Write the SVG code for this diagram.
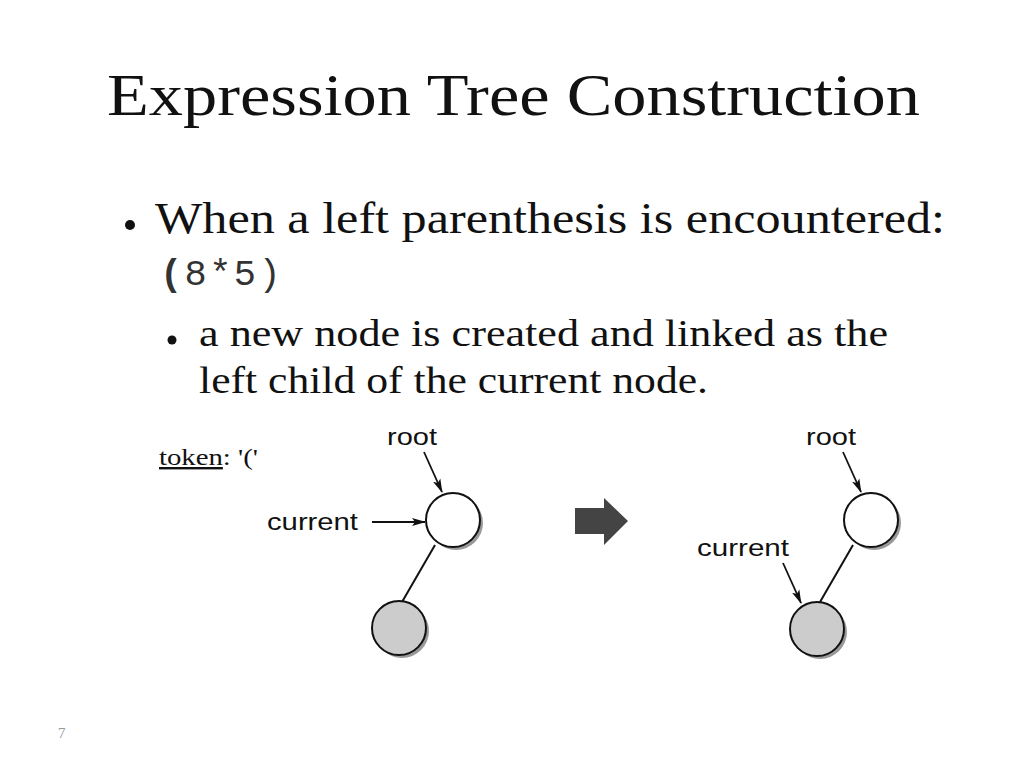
<svg xmlns="http://www.w3.org/2000/svg" width="1024" height="768" viewBox="0 0 1024 768">
<defs>
<style>
.title{font-family:"Liberation Serif",serif;font-size:60px;fill:#111}
.body{font-family:"Liberation Serif",serif;fill:#111}
.lbl{font-family:"Liberation Sans",Arial,sans-serif;font-size:24px;fill:#111}
.mono{font-family:"Liberation Mono",monospace;font-size:37px;fill:#333}
.shadow{fill:#999;stroke:none}
.nw{fill:#fff;stroke:#111;stroke-width:2}
.ng{fill:#ccc;stroke:#111;stroke-width:2}
.edge{stroke:#111;stroke-width:2;fill:none}
.ptr{stroke:#111;stroke-width:1.8;fill:none;marker-end:url(#ah)}
</style>
<marker id="ah" viewBox="0 0 14 10" refX="13" refY="5" markerWidth="14" markerHeight="10" orient="auto" markerUnits="userSpaceOnUse">
<path d="M0,1 L14,5 L0,9 L3,5 z" fill="#111"/>
</marker>
</defs>
<rect width="1024" height="768" fill="#fff"/>
<text class="title" x="107" y="115" textLength="813" lengthAdjust="spacingAndGlyphs">Expression Tree Construction</text>
<circle cx="130" cy="225" r="5" fill="#111"/>
<text class="body" x="155" y="233" font-size="44" textLength="790" lengthAdjust="spacingAndGlyphs">When a left parenthesis is encountered:</text>
<text class="mono" x="160" y="285" letter-spacing="2.4"><tspan font-weight="bold">(</tspan>8*5)</text>
<circle cx="172" cy="340" r="4.5" fill="#111"/>
<text class="body" x="199" y="346" font-size="37" textLength="689" lengthAdjust="spacingAndGlyphs">a new node is created and linked as the</text>
<text class="body" x="199" y="393" font-size="37" textLength="509" lengthAdjust="spacingAndGlyphs">left child of the current node.</text>
<text class="body" x="159" y="465" font-size="24" textLength="99" lengthAdjust="spacingAndGlyphs"><tspan text-decoration="underline">token</tspan>: '('</text>
<text x="58" y="738" font-family="Liberation Serif,serif" font-size="15" fill="#999">7</text>

<g id="connectors">
<line class="edge" x1="435" y1="545" x2="402" y2="602"/>
<line class="ptr" x1="424" y1="452" x2="442" y2="492"/>
<line class="ptr" x1="372" y1="522" x2="425" y2="522"/>
<line class="edge" x1="853" y1="545" x2="820" y2="602"/>
<line class="ptr" x1="843" y1="452" x2="861" y2="492"/>
<line class="ptr" x1="783" y1="563" x2="801" y2="603"/>
</g>

<g id="left-root">
<circle class="shadow" cx="456" cy="523" r="27"/>
<circle class="nw" cx="453" cy="520" r="27"/>
</g>
<g id="left-child">
<circle class="shadow" cx="402" cy="631" r="27"/>
<circle class="ng" cx="399" cy="628" r="27"/>
</g>
<g id="left-labels">
<text class="lbl" x="387" y="445" textLength="50" lengthAdjust="spacingAndGlyphs">root</text>
<text class="lbl" x="267" y="530" textLength="91" lengthAdjust="spacingAndGlyphs">current</text>
</g>

<g id="transition-arrow">
<path d="M575,508 L604,508 L604,498 L628,521 L604,545 L604,534 L575,534 z" fill="#444"/>
</g>

<g id="right-root">
<circle class="shadow" cx="874" cy="523" r="27"/>
<circle class="nw" cx="871" cy="520" r="27"/>
</g>
<g id="right-child">
<circle class="shadow" cx="820" cy="632" r="27"/>
<circle class="ng" cx="817" cy="629" r="27"/>
</g>
<g id="right-labels">
<text class="lbl" x="806" y="445" textLength="50" lengthAdjust="spacingAndGlyphs">root</text>
<text class="lbl" x="697" y="556" textLength="92" lengthAdjust="spacingAndGlyphs">current</text>
</g>
</svg>
